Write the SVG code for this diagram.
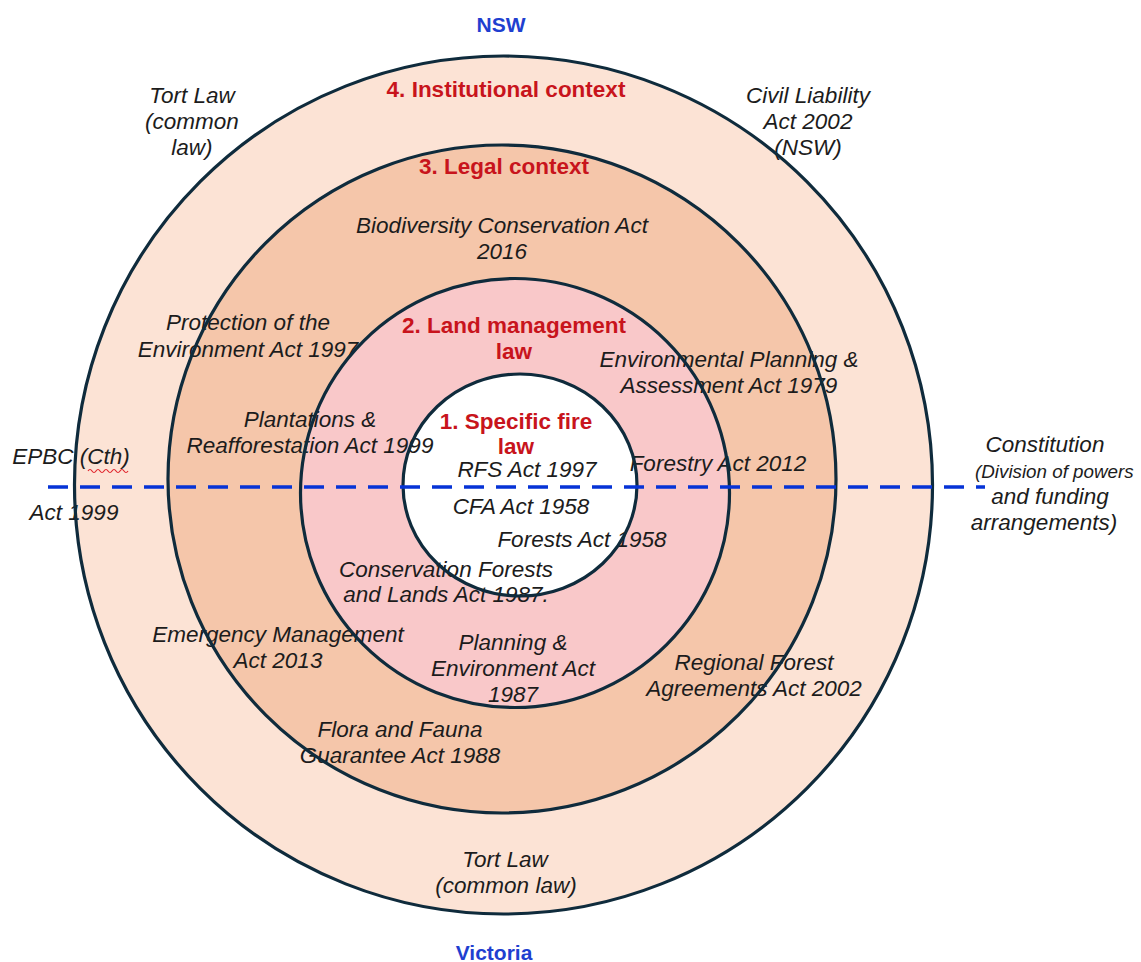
<svg xmlns="http://www.w3.org/2000/svg" xmlns:xlink="http://www.w3.org/1999/xlink" width="1141" height="962" viewBox="0 0 1141 962">
  <style>
    .law { font-family: "Liberation Sans", Arial, sans-serif; font-size: 22.5px; font-style: italic; fill: #1c1c1c; text-anchor: middle; }
    .ring-title { font-family: "Liberation Sans", Arial, sans-serif; font-size: 22.5px; font-weight: bold; fill: #c8141c; text-anchor: middle; }
    .state { font-family: "Liberation Sans", Arial, sans-serif; font-size: 21px; font-weight: bold; fill: #1f3fd0; text-anchor: middle; }
    .outline { fill: none; stroke: #0f2b3c; stroke-width: 3.2; }
    .border { fill: none; stroke: #0633d6; stroke-width: 3.5; stroke-dasharray: 20 12; }
  </style>
  <defs>
    <circle id="c4" cx="503.5" cy="485" r="429"/>
    <circle id="c3" cx="502" cy="479" r="334"/>
    <circle id="c2" cx="515" cy="493" r="214.5"/>
    <ellipse id="c1" cx="520" cy="485" rx="117" ry="111"/>
  </defs>

  <rect width="1141" height="962" fill="#ffffff"/>

  <!-- ring fills, outermost first -->
  <g id="ring-4"><use xlink:href="#c4" fill="#fce3d5"/></g>
  <g id="ring-3"><use xlink:href="#c3" fill="#f5c6aa"/></g>
  <g id="ring-2"><use xlink:href="#c2" fill="#f9c8c9"/></g>
  <g id="ring-1"><use xlink:href="#c1" fill="#ffffff"/></g>

  <!-- state labels -->
  <g id="state-labels">
    <text class="state" x="501" y="32">NSW</text>
    <text class="state" x="494" y="960">Victoria</text>
  </g>

  <!-- 4. institutional context -->
  <g id="ring-4-labels">
    <text class="ring-title" x="506" y="97">4. Institutional context</text>
    <text class="law" x="192" y="103">Tort Law</text>
    <text class="law" x="192" y="129">(common</text>
    <text class="law" x="192" y="155">law)</text>
    <text class="law" x="808" y="103">Civil Liability</text>
    <text class="law" x="808" y="129">Act 2002</text>
    <text class="law" x="808" y="155">(NSW)</text>
    <text class="law" x="71" y="464">EPBC (Cth)</text>
    <path d="M88 471 q2 -3 4 0 t4 0 t4 0 t4 0 t4 0 t4 0 t4 0 t4 0 t4 0 t4 0" fill="none" stroke="#e0242c" stroke-width="1.2"/>
    <text class="law" x="74" y="520">Act 1999</text>
    <text class="law" x="1045" y="452">Constitution</text>
    <text class="law" x="975" y="478" style="text-anchor:start; font-size:18.8px">(Division of powers</text>
    <text class="law" x="1050" y="504">and funding</text>
    <text class="law" x="1044" y="530">arrangements)</text>
    <text class="law" x="505" y="867">Tort Law</text>
    <text class="law" x="506" y="893">(common law)</text>
  </g>

  <!-- 3. legal context -->
  <g id="ring-3-labels">
    <text class="ring-title" x="504" y="174">3. Legal context</text>
    <text class="law" x="502" y="233">Biodiversity Conservation Act</text>
    <text class="law" x="502" y="259">2016</text>
    <text class="law" x="248" y="330">Protection of the</text>
    <text class="law" x="248" y="357">Environment Act 1997</text>
    <text class="law" x="729" y="367">Environmental Planning &amp;</text>
    <text class="law" x="729" y="393">Assessment Act 1979</text>
    <text class="law" x="278" y="642">Emergency Management</text>
    <text class="law" x="278" y="668">Act 2013</text>
    <text class="law" x="400" y="737">Flora and Fauna</text>
    <text class="law" x="400" y="763">Guarantee Act 1988</text>
    <text class="law" x="754" y="670">Regional Forest</text>
    <text class="law" x="754" y="696">Agreements Act 2002</text>
  </g>

  <!-- 2. land management law -->
  <g id="ring-2-labels">
    <text class="ring-title" x="514" y="333">2. Land management</text>
    <text class="ring-title" x="514" y="359">law</text>
    <text class="law" x="310" y="427">Plantations &amp;</text>
    <text class="law" x="310" y="453">Reafforestation Act 1999</text>
    <text class="law" x="718" y="471">Forestry Act 2012</text>
    <text class="law" x="446" y="577">Conservation Forests</text>
    <text class="law" x="446" y="602">and Lands Act 1987.</text>
    <text class="law" x="513" y="650">Planning &amp;</text>
    <text class="law" x="513" y="676">Environment Act</text>
    <text class="law" x="513" y="702">1987</text>
  </g>

  <!-- 1. specific fire law -->
  <g id="ring-1-labels">
    <text class="ring-title" x="516" y="429">1. Specific fire</text>
    <text class="ring-title" x="516" y="454">law</text>
    <text class="law" x="527" y="477">RFS Act 1997</text>
    <text class="law" x="521" y="514">CFA Act 1958</text>
    <text class="law" x="582" y="547">Forests Act 1958</text>
  </g>

  <!-- ring outlines drawn over the labels -->
  <g id="ring-outlines">
    <use xlink:href="#c4" class="outline"/>
    <use xlink:href="#c3" class="outline"/>
    <use xlink:href="#c2" class="outline"/>
    <use xlink:href="#c1" class="outline"/>
  </g>

  <!-- NSW / Victoria border -->
  <g id="connectors">
    <line class="border" x1="48" y1="487" x2="985" y2="487"/>
  </g>
</svg>
